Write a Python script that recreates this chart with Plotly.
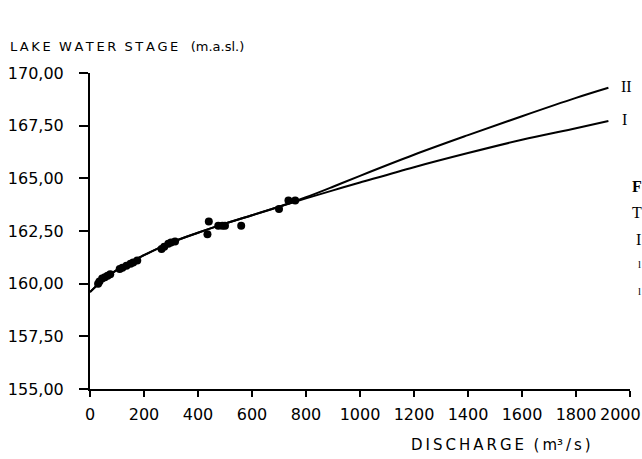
import plotly.graph_objects as go

# ---- data ----
obs_q = [30, 35, 45, 55, 65, 75, 110, 120, 135, 150, 160, 175,
         265, 275, 290, 300, 315, 435, 440, 475, 490, 500, 560, 700, 735, 760]
obs_stage = [160.0, 160.1, 160.25, 160.3, 160.38, 160.45, 160.7, 160.75, 160.85, 160.95, 161.0, 161.1,
             161.65, 161.75, 161.9, 161.95, 162.0, 162.35, 162.95, 162.75, 162.75, 162.75, 162.75,
             163.55, 163.95, 163.95]

curve_q = [0, 50, 100, 200, 300, 400, 500, 600, 700, 800, 900, 1000, 1200, 1400, 1600, 1800, 1920]
curve_I = [159.6, 160.2, 160.65, 161.35, 161.95, 162.42, 162.85, 163.25, 163.65, 164.05,
           164.43, 164.8, 165.53, 166.2, 166.83, 167.38, 167.72]
curve_II = [159.6, 160.2, 160.65, 161.35, 161.95, 162.42, 162.85, 163.25, 163.65, 164.1,
            164.6, 165.12, 166.12, 167.05, 167.95, 168.82, 169.3]

x_ticks = [0, 200, 400, 600, 800, 1000, 1200, 1400, 1600, 1800, 2000]
x_ticktext = ["0", "200", "400", "600", "800", "1000", "1200", "1400", "1600", "1800", "2000"]
y_ticks = [155, 157.5, 160, 162.5, 165, 167.5, 170]
y_ticktext = ["155,00", "157,50", "160,00", "162,50", "165,00", "167,50", "170,00"]

W, H = 642, 459
L, R, T, B = 90, 12, 73, 70
PW, PH = W - L - R, H - T - B


def px(x, y):
    return (x - L) / PW, 1 - (y - T) / PH


def spaced(word):
    return "\u2009".join(word)


fig = go.Figure()
fig.add_trace(go.Scatter(x=curve_q, y=curve_II, mode="lines", line=dict(color="black", width=2, shape="spline"),
                         showlegend=False, hoverinfo="skip"))
fig.add_trace(go.Scatter(x=curve_q, y=curve_I, mode="lines", line=dict(color="black", width=2, shape="spline"),
                         showlegend=False, hoverinfo="skip"))
fig.add_trace(go.Scatter(x=obs_q, y=obs_stage, mode="markers", marker=dict(color="black", size=8),
                         showlegend=False))

font_axis = dict(family="DejaVu Sans", size=16, color="black")

# last tick label is set separately (shifted left so it stays inside the page)
fig.update_xaxes(range=[0, 2000], tickvals=x_ticks, ticktext=x_ticktext[:-1] + [""], ticks="outside",
                 ticklen=6, tickwidth=1.5, tickcolor="black", showline=True, linecolor="black", linewidth=2,
                 showgrid=False, zeroline=False, tickfont=font_axis, ticklabelstandoff=4,
                 tickangle=0, automargin=False)
fig.update_yaxes(range=[155, 170], tickvals=y_ticks, ticktext=y_ticktext, ticks="outside", ticklen=9,
                 tickwidth=2, tickcolor="black", showline=True, linecolor="black", linewidth=2,
                 showgrid=False, zeroline=False, tickfont=font_axis, ticklabelstandoff=12,
                 automargin=False)

ann = []
_, yl = px(0, 414)
ann.append(dict(x=x_ticks[-1], y=yl, xref="x", yref="paper", xanchor="center", yanchor="middle",
                xshift=-10, text=x_ticktext[-1], showarrow=False, font=font_axis))
x0, y0 = px(8, 46)
ann.append(dict(x=x0, y=y0, xref="paper", yref="paper", xanchor="left", yanchor="middle",
                text=spaced("LAKE") + "  " + spaced("WATER") + "  " + spaced("STAGE") + "   (m.a.sl.)",
                showarrow=False, font=dict(family="DejaVu Sans", size=13, color="black")))
x0, y0 = px(409, 445)
ann.append(dict(x=x0, y=y0, xref="paper", yref="paper", xanchor="left", yanchor="middle",
                text=spaced("DISCHARGE") + "  (\u2009m³\u2009/\u2009s\u2009)", showarrow=False,
                font=dict(family="DejaVu Sans", size=15, color="black")))
x0, y0 = px(626, 86)
ann.append(dict(x=x0, y=y0, xref="paper", yref="paper", xanchor="center", yanchor="middle",
                text="II", showarrow=False, font=dict(family="Liberation Serif", size=16, color="black")))
x0, y0 = px(624, 119)
ann.append(dict(x=x0, y=y0, xref="paper", yref="paper", xanchor="center", yanchor="middle",
                text="I", showarrow=False, font=dict(family="Liberation Serif", size=16, color="black")))
# letters of the neighbouring text column at the right edge
for txt, xx, yy, sz, bold in [("F", 630, 186, 16, True), ("T", 630, 213, 16, False), ("I", 634, 239, 16, False),
                               ("l", 636, 264, 11, False), ("l", 636, 291, 11, False)]:
    x0, y0 = px(xx, yy)
    ann.append(dict(x=x0, y=y0, xref="paper", yref="paper", xanchor="left", yanchor="middle",
                    text=("<b>%s</b>" % txt) if bold else txt, showarrow=False,
                    font=dict(family="Liberation Serif", size=sz, color="black")))

fig.update_layout(width=W, height=H, margin=dict(l=L, r=R, t=T, b=B, autoexpand=False),
                  paper_bgcolor="white", plot_bgcolor="white", annotations=ann)

fig.write_html("out.html")
